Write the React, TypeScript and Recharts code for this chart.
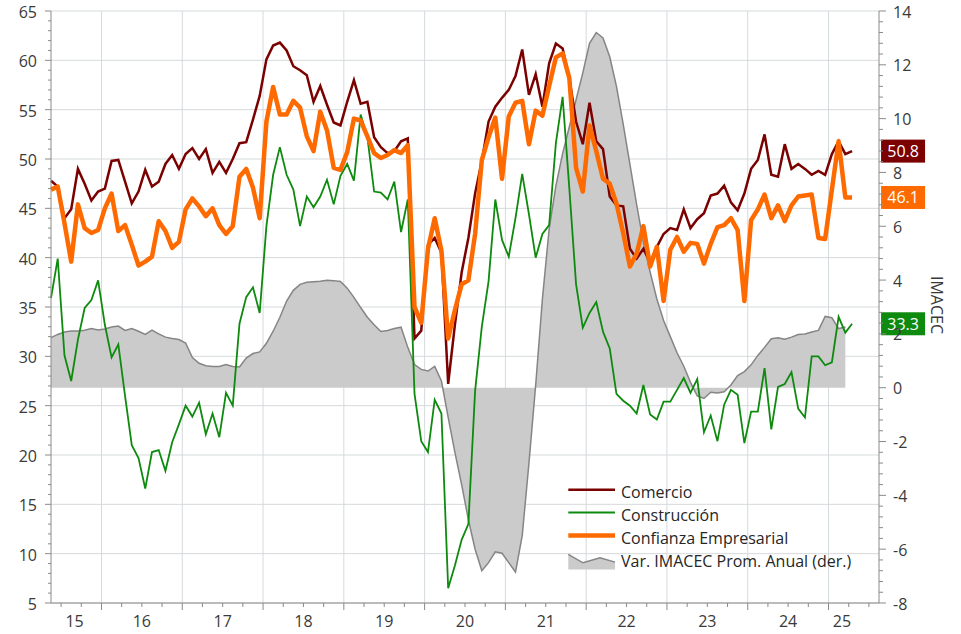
import { Area, CartesianGrid, ComposedChart, Legend, Line, XAxis, YAxis } from "recharts";

// monthly values, May-2015 .. Apr-2025 (index 0 = May 2015)
const comercio = [
  47.8, 47.2, 44.0, 44.9, 49.0, 47.5, 45.8, 46.7, 47.0, 49.8,
  49.9, 47.7, 45.5, 46.7, 48.9, 47.2, 47.7, 49.5, 50.4, 49.0,
  50.5, 51.1, 50.0, 51.0, 48.6, 49.7, 48.6, 50.0, 51.6, 51.7,
  54.0, 56.4, 60.1, 61.5, 61.8, 61.0, 59.4, 59.0, 58.5, 55.8,
  57.4, 55.5, 53.7, 53.4, 55.8, 58.0, 55.6, 55.8, 52.2, 51.2,
  50.6, 50.8, 51.8, 52.1, 31.8, 32.6, 41.3, 42.0, 40.5, 27.2,
  33.2, 38.5, 42.0, 46.5, 49.8, 53.8, 55.3, 56.2, 57.0, 58.4,
  61.1, 56.5, 58.6, 55.3, 59.7, 61.7, 61.2, 58.2, 53.8, 51.5,
  55.7, 51.8, 51.0, 46.2, 45.3, 45.2, 40.9, 39.9, 40.9, 39.5,
  41.1, 42.4, 43.0, 42.8, 44.9, 43.0, 43.9, 44.5, 46.3, 46.5,
  47.3, 45.6, 44.8, 46.5, 49.0, 49.9, 52.5, 48.4, 48.2, 51.5,
  49.0, 49.5, 49.0, 48.4, 48.8, 48.4, 50.5, 51.8, 50.5, 50.8,
];

const construccion = [
  35.9, 39.9, 30.1, 27.5, 31.7, 34.9, 35.7, 37.7, 33.2, 29.9,
  31.2, 26.0, 21.0, 19.7, 16.6, 20.3, 20.5, 18.4, 21.3, 23.1,
  25.0, 23.9, 25.3, 22.1, 24.2, 21.8, 26.3, 25.0, 33.3, 36.0,
  37.0, 34.4, 43.2, 48.4, 51.2, 48.4, 46.9, 43.2, 46.2, 45.1,
  46.2, 47.9, 45.4, 48.3, 49.5, 47.8, 54.5, 52.2, 46.7, 46.6,
  45.9, 47.7, 42.6, 45.9, 26.2, 21.4, 20.3, 25.6, 24.2, 6.5,
  8.8, 11.4, 13.0, 26.5, 33.0, 37.6, 45.9, 41.8, 40.1, 44.0,
  48.5, 44.4, 40.0, 42.4, 43.3, 51.6, 56.3, 47.0, 37.3, 32.9,
  34.4, 35.5, 32.5, 30.8, 26.2, 25.5, 25.0, 24.2, 27.1, 24.1,
  23.6, 25.4, 25.4, 26.6, 27.8, 26.3, 27.7, 22.3, 24.0, 21.4,
  25.1, 26.6, 26.1, 21.2, 24.4, 24.4, 28.8, 22.6, 26.9, 27.2,
  28.4, 24.7, 23.8, 30.0, 30.0, 29.1, 29.4, 34.0, 32.4, 33.3,
];

const confianza = [
  46.9, 47.2, 43.5, 39.6, 45.4, 43.0, 42.5, 42.8, 45.0, 46.5,
  42.7, 43.3, 41.3, 39.2, 39.6, 40.1, 43.7, 42.7, 41.0, 41.6,
  44.9, 46.0, 45.2, 44.2, 45.0, 43.3, 42.4, 43.2, 48.2, 49.0,
  47.1, 44.0, 53.8, 57.3, 54.5, 54.5, 55.9, 55.2, 52.3, 50.8,
  54.8, 52.9, 49.1, 48.9, 50.7, 54.1, 53.9, 52.3, 50.6, 50.1,
  50.4, 50.9, 50.6, 51.4, 35.0, 33.4, 40.9, 44.0, 40.7, 31.8,
  34.7, 37.3, 37.7, 42.4, 49.9, 52.2, 54.2, 48.0, 54.3, 55.7,
  55.9, 51.5, 54.9, 54.4, 57.4, 60.3, 60.7, 58.2, 49.1, 46.7,
  53.4, 50.8, 48.0, 47.5, 45.5, 42.5, 39.1, 40.4, 43.2, 39.1,
  41.1, 35.6, 40.8, 42.1, 40.6, 41.5, 41.4, 39.4, 41.4, 43.1,
  43.3, 44.0, 42.8, 35.6, 43.8, 44.9, 46.4, 44.0, 45.3, 43.7,
  45.3, 46.2, 46.3, 46.4, 42.0, 41.9, 46.9, 51.8, 46.1, 46.1,
];

// Var. IMACEC prom. anual (right axis), one month shorter
const imacec = [
  1.86, 1.98, 2.07, 2.11, 2.11, 2.14, 2.2, 2.15, 2.18, 2.26,
  2.29, 2.13, 2.2, 2.1, 1.98, 2.14, 2.0, 1.88, 1.83, 1.79,
  1.66, 1.12, 0.91, 0.82, 0.79, 0.79, 0.86, 0.79, 0.77, 1.1,
  1.27, 1.33, 1.65, 2.1, 2.62, 3.22, 3.62, 3.84, 3.92, 3.94,
  3.96, 3.99, 3.98, 3.95, 3.7, 3.36, 2.98, 2.62, 2.34, 2.09,
  2.13, 2.2, 2.25, 1.5, 0.86, 0.68, 0.62, 0.79, 0.25, -1.1,
  -2.4, -3.6, -4.9, -6.0, -6.8, -6.5, -6.1, -6.15, -6.5, -6.85,
  -5.5, -2.8, 0.1, 3.3, 5.9, 7.5, 8.7, 9.7, 10.7, 11.7,
  12.8, 13.2, 13.0, 12.3, 11.2, 9.8, 8.3, 6.8, 5.4, 4.3,
  3.3, 2.5, 1.9, 1.3, 0.8, 0.2, -0.3, -0.4, -0.17, -0.2,
  -0.15, 0.1, 0.45, 0.6, 0.85, 1.2, 1.5, 1.82, 1.86, 1.8,
  1.88, 1.98, 2.0, 2.07, 2.13, 2.65, 2.6, 2.2, 2.26,
];

const yearLabels = ["15", "16", "17", "18", "19", "20", "21", "22", "23", "24", "25"];
// label sits in the middle of the months shown for that year
const yearLabelPos = [3.5, 13.5, 25.5, 37.5, 49.5, 61.5, 73.5, 85.5, 97.5, 109.5, 117.5];
const yearBounds = [7.5, 19.5, 31.5, 43.5, 55.5, 67.5, 79.5, 91.5, 103.5, 115.5];
const leftMajor = [5, 10, 15, 20, 25, 30, 35, 40, 45, 50, 55, 60, 65];
const rightMajor = [-8, -6, -4, -2, 0, 2, 4, 6, 8, 10, 12, 14];

const RED = "#7b0000";
const GREEN = "#0e8a0e";
const ORANGE = "#ff6a00";
const GREY_LINE = "#858585";
const GREY_FILL = "#cbcbcb";
const AXIS = "#8a8a8a";
const GRID = "#d5dadd";
const TXT = "#3a3a3a";
const FONT = "'Open Sans', 'Noto Sans', sans-serif";

const data = comercio.map((v, i) => ({
  m: i,
  comercio: v,
  construccion: construccion[i],
  confianza: confianza[i],
  imacec: i < imacec.length ? imacec[i] : null,
}));

const quarterTicks: number[] = [];
for (let t = 1.5; t <= 121.5; t += 3) quarterTicks.push(t);
const xTicks = Array.from(new Set([...quarterTicks, ...yearLabelPos])).sort((a, b) => a - b);

const leftTicks: number[] = [];
for (let v = 5; v <= 65; v++) leftTicks.push(v);

const rightTicks: number[] = [];
for (let i = 0; i <= 55; i++) rightTicks.push(Math.round((-8 + i * 0.4) * 10) / 10);

function XTick({ x, y, payload }: any) {
  const v = payload.value;
  const li = yearLabelPos.indexOf(v);
  const isQuarter = quarterTicks.includes(v);
  const isMajor = yearBounds.includes(v);
  return (
    <g>
      {isQuarter && <line x1={x} x2={x} y1={y} y2={y + (isMajor ? 7 : 4)} stroke={AXIS} />}
      {li >= 0 && (
        <text x={x} y={y + 24} textAnchor="middle" fontSize={16} fontFamily={FONT} fill={TXT}>
          {yearLabels[li]}
        </text>
      )}
    </g>
  );
}

function LeftTick({ x, y, payload }: any) {
  const v = payload.value;
  const major = leftMajor.includes(v);
  return (
    <g>
      <line x1={x} x2={x - (major ? 6 : 3)} y1={y} y2={y} stroke={AXIS} />
      {major && (
        <text x={x - 14} y={y + 7} textAnchor="end" fontSize={16} fontFamily={FONT} fill={TXT}>
          {v}
        </text>
      )}
    </g>
  );
}

function RightTick({ x, y, payload }: any) {
  const v = payload.value;
  const major = rightMajor.includes(v);
  return (
    <g>
      <line x1={x} x2={x + (major ? 7 : 4)} y1={y} y2={y} stroke={AXIS} />
      {major && (
        <text x={x + 14} y={y + 6.5} textAnchor="start" fontSize={16} fontFamily={FONT} fill={TXT}>
          {v}
        </text>
      )}
    </g>
  );
}

// value tag at the last point of a series
function endTag(color: string, key: string, last: number) {
  return (p: any) => {
    if (p.index !== last) return <g key={`${key}-${p.index}`} />;
    const value = p.payload[key];
    return (
      <g key={`${key}-${p.index}`}>
        <rect x={p.cx + 29} y={p.cy - 11.5} width={44} height={23} fill={color} />
        <text
          x={p.cx + 51}
          y={p.cy + 6}
          textAnchor="middle"
          fontSize={16}
          fontFamily={FONT}
          fill="#ffffff"
        >
          {Number(value).toFixed(1)}
        </text>
      </g>
    );
  };
}

const legendRows = [
  { label: "Comercio", color: RED, width: 2.5 },
  { label: "Construcción", color: GREEN, width: 2 },
  { label: "Confianza Empresarial", color: ORANGE, width: 4.5 },
  { label: "Var. IMACEC Prom. Anual (der.)", color: GREY_LINE, width: 1.5 },
];

function LegendBox() {
  const rowH = 22.9;
  return (
    <svg width={320} height={100} style={{ display: "block" }}>
      {legendRows.map((r, i) => {
        const base = 20 + i * rowH;
        const mid = base - 8.3;
        return (
          <g key={r.label}>
            {i < 3 ? (
              <line x1={8.3} x2={55} y1={mid} y2={mid} stroke={r.color} strokeWidth={r.width} />
            ) : (
              <g>
                <polygon points={`8.3,${mid - 4} 23,${mid + 4.4} 40,${mid - 0.6} 55,${mid + 3.7} 55,${mid + 11} 8.3,${mid + 11}`} fill={GREY_FILL} />
                <polyline points={`8.3,${mid - 4} 23,${mid + 4.4} 40,${mid - 0.6} 55,${mid + 3.7}`} fill="none" stroke={GREY_LINE} strokeWidth={1.5} />
              </g>
            )}
            <text x={61} y={base} fontSize={16} fontFamily={FONT} fill="#262626">
              {r.label}
            </text>
          </g>
        );
      })}
    </svg>
  );
}

function ImacecTitle({ viewBox }: any) {
  const cx = viewBox.x + 58;
  const cy = viewBox.y + viewBox.height / 2 - 2;
  return (
    <text
      x={cx}
      y={cy}
      transform={`rotate(90 ${cx} ${cy})`}
      textAnchor="middle"
      dominantBaseline="central"
      fontSize={16}
      fontFamily={FONT}
      fill={TXT}
    >
      IMACEC
    </text>
  );
}

export default function App() {
  const last = data.length - 1;
  return (
    <div style={{ position: "absolute", left: 0, top: 0, width: 961, height: 634, background: "#ffffff" }}>
      <ComposedChart width={961} height={634} data={data} margin={{ top: 11, right: 0, bottom: 0, left: 0 }}>
        <CartesianGrid stroke={GRID} horizontalValues={leftMajor} verticalValues={yearBounds} />

        <XAxis
          dataKey="m"
          type="number"
          domain={[0, 123]}
          ticks={xTicks}
          interval={0}
          height={31}
          tickSize={0}
          tickMargin={0}
          tickLine={false}
          axisLine={{ stroke: AXIS }}
          tick={<XTick />}
        />
        <YAxis
          domain={[5, 65]}
          ticks={leftTicks}
          interval={0}
          width={51}
          tickSize={0}
          tickMargin={0}
          tickLine={false}
          axisLine={{ stroke: AXIS }}
          tick={<LeftTick />}
        />
        <YAxis
          yAxisId="right"
          orientation="right"
          domain={[-8, 14]}
          ticks={rightTicks}
          interval={0}
          width={82}
          tickSize={0}
          tickMargin={0}
          tickLine={false}
          axisLine={{ stroke: AXIS }}
          tick={<RightTick />}
          label={<ImacecTitle />}
        />

        <Area
          yAxisId="right"
          type="linear"
          dataKey="imacec"
          stroke={GREY_LINE}
          strokeWidth={1.5}
          fill={GREY_FILL}
          fillOpacity={1}
          baseValue={0}
          dot={false}
          activeDot={false}
          isAnimationActive={false}
        />
        <Line
          type="linear"
          dataKey="comercio"
          stroke={RED}
          strokeWidth={2.5}
          dot={endTag(RED, "comercio", last)}
          activeDot={false}
          isAnimationActive={false}
        />
        <Line
          type="linear"
          dataKey="construccion"
          stroke={GREEN}
          strokeWidth={1.8}
          dot={endTag(GREEN, "construccion", last)}
          activeDot={false}
          isAnimationActive={false}
        />
        <Line
          type="linear"
          dataKey="confianza"
          stroke={ORANGE}
          strokeWidth={4.5}
          strokeLinejoin="round"
          dot={endTag(ORANGE, "confianza", last)}
          activeDot={false}
          isAnimationActive={false}
        />

        <Legend
          layout="vertical"
          align="center"
          verticalAlign="middle"
          content={<LegendBox />}
          wrapperStyle={{ position: "absolute", left: 560, top: 478, width: 320, height: 100 }}
        />
      </ComposedChart>
    </div>
  );
}
